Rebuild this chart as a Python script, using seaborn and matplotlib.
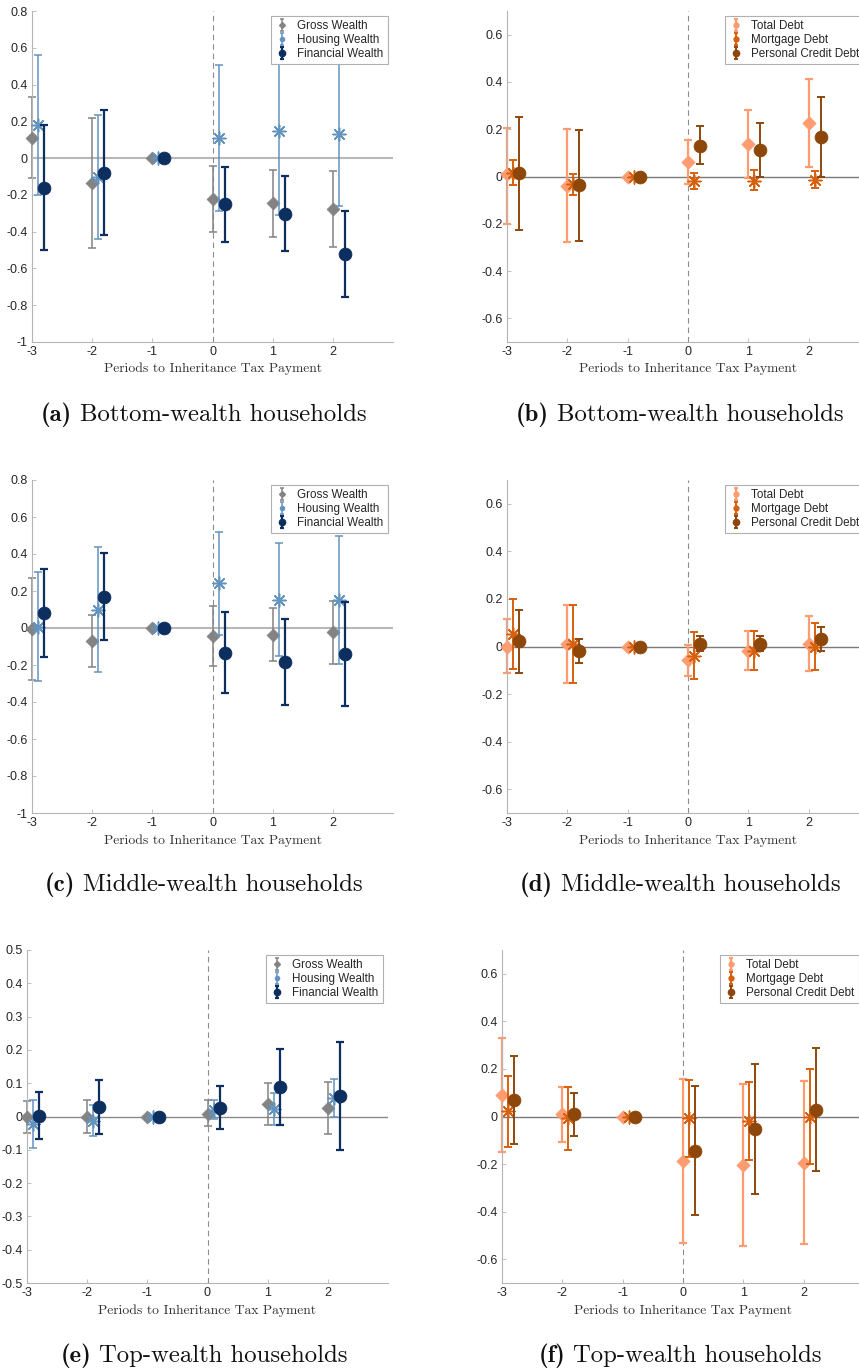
import numpy as np
import pandas as pd
import matplotlib
matplotlib.use("Agg")
import matplotlib.pyplot as plt
import seaborn as sns
from matplotlib.container import ErrorbarContainer
from matplotlib.lines import Line2D
from matplotlib.collections import LineCollection

# ---------------------------------------------------------------- data
periods = [-3, -2, -1, 0, 1, 2]

# (a) bottom-wealth households: assets
a_gross = [0.11, -0.135, 0.0, -0.225, -0.245, -0.275]
a_gross_lo = [-0.11, -0.49, 0.0, -0.40, -0.43, -0.485]
a_gross_hi = [0.33, 0.22, 0.0, -0.045, -0.065, -0.07]
a_housing = [0.18, -0.105, 0.0, 0.11, 0.148, 0.13]
a_housing_lo = [-0.20, -0.44, 0.0, -0.29, -0.31, -0.26]
a_housing_hi = [0.56, 0.235, 0.0, 0.505, 0.60, 0.525]
a_fin = [-0.16, -0.08, 0.0, -0.252, -0.305, -0.522]
a_fin_lo = [-0.50, -0.42, 0.0, -0.457, -0.506, -0.756]
a_fin_hi = [0.18, 0.26, 0.0, -0.049, -0.10, -0.287]

# (b) bottom-wealth households: debts
b_total = [0.01, -0.04, 0.0, 0.062, 0.138, 0.228]
b_total_lo = [-0.20, -0.277, 0.0, -0.03, -0.007, 0.042]
b_total_hi = [0.206, 0.203, 0.0, 0.155, 0.282, 0.414]
b_mort = [0.014, -0.032, 0.0, -0.021, -0.017, -0.013]
b_mort_lo = [-0.038, -0.077, 0.0, -0.052, -0.056, -0.049]
b_mort_hi = [0.069, 0.011, 0.0, 0.014, 0.027, 0.025]
b_pers = [0.013, -0.038, 0.0, 0.131, 0.111, 0.167]
b_pers_lo = [-0.226, -0.274, 0.0, 0.051, 0.0, 0.0]
b_pers_hi = [0.251, 0.198, 0.0, 0.212, 0.226, 0.337]

# (c) middle-wealth households: assets
c_gross = [-0.005, -0.072, 0.0, -0.043, -0.036, -0.023]
c_gross_lo = [-0.28, -0.213, 0.0, -0.204, -0.177, -0.195]
c_gross_hi = [0.27, 0.07, 0.0, 0.117, 0.108, 0.148]
c_housing = [0.004, 0.097, 0.0, 0.242, 0.153, 0.153]
c_housing_lo = [-0.287, -0.238, 0.0, -0.036, -0.153, -0.195]
c_housing_hi = [0.303, 0.436, 0.0, 0.52, 0.462, 0.50]
c_fin = [0.081, 0.17, 0.0, -0.133, -0.186, -0.141]
c_fin_lo = [-0.159, -0.067, 0.0, -0.35, -0.417, -0.422]
c_fin_hi = [0.32, 0.408, 0.0, 0.087, 0.047, 0.139]

# (d) middle-wealth households: debts
d_total = [0.0, 0.011, 0.0, -0.058, -0.02, 0.011]
d_total_lo = [-0.111, -0.152, 0.0, -0.123, -0.10, -0.103]
d_total_hi = [0.114, 0.176, 0.0, 0.007, 0.065, 0.127]
d_mort = [0.052, 0.01, 0.0, -0.038, -0.017, 0.0]
d_mort_lo = [-0.096, -0.152, 0.0, -0.135, -0.10, -0.097]
d_mort_hi = [0.20, 0.176, 0.0, 0.061, 0.065, 0.10]
d_pers = [0.023, -0.018, 0.0, 0.011, 0.011, 0.032]
d_pers_lo = [-0.11, -0.068, 0.0, -0.021, -0.021, -0.017]
d_pers_hi = [0.152, 0.031, 0.0, 0.044, 0.044, 0.08]

# (e) top-wealth households: assets
e_gross = [-0.003, -0.001, 0.0, 0.009, 0.038, 0.026]
e_gross_lo = [-0.05, -0.051, 0.0, -0.029, -0.025, -0.053]
e_gross_hi = [0.046, 0.05, 0.0, 0.051, 0.102, 0.104]
e_housing = [-0.023, -0.013, 0.0, 0.02, 0.023, 0.057]
e_housing_lo = [-0.095, -0.059, 0.0, -0.009, -0.027, -0.003]
e_housing_hi = [0.049, 0.035, 0.0, 0.05, 0.071, 0.114]
e_fin = [0.003, 0.029, 0.0, 0.027, 0.09, 0.063]
e_fin_lo = [-0.067, -0.053, 0.0, -0.038, -0.025, -0.10]
e_fin_hi = [0.074, 0.111, 0.0, 0.091, 0.203, 0.225]

# (f) top-wealth households: debts
f_total = [0.09, 0.011, 0.0, -0.187, -0.206, -0.196]
f_total_lo = [-0.149, -0.107, 0.0, -0.532, -0.545, -0.535]
f_total_hi = [0.331, 0.125, 0.0, 0.159, 0.135, 0.148]
f_mort = [0.023, -0.008, 0.0, -0.007, -0.018, 0.0]
f_mort_lo = [-0.127, -0.141, 0.0, -0.172, -0.183, -0.199]
f_mort_hi = [0.17, 0.125, 0.0, 0.155, 0.146, 0.20]
f_pers = [0.068, 0.01, 0.0, -0.145, -0.054, 0.028]
f_pers_lo = [-0.117, -0.082, 0.0, -0.414, -0.327, -0.231]
f_pers_hi = [0.254, 0.10, 0.0, 0.127, 0.222, 0.287]

asset_labels = ["Gross Wealth", "Housing Wealth", "Financial Wealth"]
debt_labels = ["Total Debt", "Mortgage Debt", "Personal Credit Debt"]
xlabel_text = "Periods to Inheritance Tax Payment"
captions = [
    ("(a)", "Bottom-wealth households"),
    ("(b)", "Bottom-wealth households"),
    ("(c)", "Middle-wealth households"),
    ("(d)", "Middle-wealth households"),
    ("(e)", "Top-wealth households"),
    ("(f)", "Top-wealth households"),
]

# ---------------------------------------------------------------- styles
sns.set_style("ticks")
plt.rcParams["font.family"] = ["Liberation Sans", "DejaVu Sans"]
plt.rcParams["axes.unicode_minus"] = False

ASTERISK = (8, 2, 0)
asset_styles = [
    dict(color="#838383", marker="D", s=42, lw=1.1, filled=True, leg_marker="D", leg_ms=3.0),
    dict(color="#6393bf", marker=ASTERISK, s=85, lw=1.1, filled=False, leg_marker="o", leg_ms=3.0),
    dict(color="#0d2f60", marker="o", s=85, lw=1.6, filled=True, leg_marker="o", leg_ms=4.5),
]
debt_styles = [
    dict(color="#fc9c70", marker="D", s=45, lw=1.6, filled=True, leg_marker="o", leg_ms=3.5),
    dict(color="#d7600e", marker=ASTERISK, s=85, lw=1.4, filled=False, leg_marker="o", leg_ms=3.5),
    dict(color="#8d470b", marker="o", s=85, lw=1.4, filled=True, leg_marker="o", leg_ms=4.5),
]

FIG_W, FIG_H = 859, 1371
fig = plt.figure(figsize=(FIG_W / 100, FIG_H / 100), dpi=100)


def axes_at(x0, x1, y0, y1):
    """Add axes given pixel edges (left, right, top, bottom)."""
    return fig.add_axes([x0 / FIG_W, 1 - y1 / FIG_H, (x1 - x0) / FIG_W, (y1 - y0) / FIG_H])


def legend_handle(style, label):
    c = style["color"]
    point = Line2D([], [], linestyle="none", marker=style["leg_marker"],
                   ms=style["leg_ms"], color=c, mec=c)
    cap = Line2D([], [], linestyle="none", marker="_", ms=3.5, mew=style["lw"], color=c)
    bars = LineCollection([], colors=[c], linewidths=style["lw"])
    return ErrorbarContainer((point, (cap, cap), (bars,)),
                             has_xerr=False, has_yerr=True, label=label)


def draw_panel(ax, series, labels, styles, ylim, yticks, zero_color, zero_lw):
    ax.set_xlim(-3, 3)
    ax.set_ylim(*ylim)
    ax.axhline(0, color=zero_color, lw=zero_lw, zorder=1)
    ax.axvline(0, color="#8c8c8c", lw=0.8, ls=(0, (5, 3.5)), zorder=1)

    handles = []
    for i, ((est, lo, hi), label, st) in enumerate(zip(series, labels, styles)):
        x = np.array(periods, dtype=float) + 0.1 * i
        y = np.array(est)
        err = [y - np.array(lo), np.array(hi) - y]
        eb = ax.errorbar(x, y, yerr=err, fmt="none", ecolor=st["color"],
                         elinewidth=st["lw"], capsize=2.6, capthick=st["lw"],
                         zorder=2 + 2 * i)
        for art in eb.get_children():
            art.set_clip_on(False)
        df = pd.DataFrame({"period": x, "estimate": y})
        kw = dict(marker=st["marker"], s=st["s"], color=st["color"],
                  zorder=3 + 2 * i, legend=False, ax=ax, clip_on=False)
        if st["filled"]:
            kw.update(edgecolor=st["color"], linewidth=0.6)
        else:
            kw.update(edgecolor=None, linewidth=1.1)
        sns.scatterplot(data=df, x="period", y="estimate", **kw)
        handles.append(legend_handle(st, label))

    ax.set_xticks(periods)
    ax.set_xticklabels([f"{p:d}" for p in periods])
    ax.set_yticks(yticks)
    ax.set_yticklabels([f"{round(v, 2):g}" for v in yticks])
    ax.set_ylabel("")
    ax.set_xlabel(xlabel_text, fontfamily="cmr10", fontsize=9.8, color="#333333")
    ax.xaxis.set_label_coords(0.5, -0.063)
    ax.xaxis.label.set_va("top")

    for side in ("top", "right"):
        ax.spines[side].set_visible(False)
    for side in ("left", "bottom"):
        ax.spines[side].set_color("#b5b5b5")
        ax.spines[side].set_linewidth(0.8)
    ax.tick_params(direction="in", length=3, width=0.6, color="#b5b5b5",
                   labelsize=9, labelcolor="#262626", pad=3)

    leg = ax.legend(handles=handles, loc="upper right", fontsize=8.4,
                    handlelength=1.2, handletextpad=0.7, labelspacing=0.16,
                    borderpad=0.35, borderaxespad=0.45, frameon=True,
                    fancybox=False, framealpha=1.0)
    leg.get_frame().set_edgecolor("#b0b0b0")
    leg.get_frame().set_linewidth(0.8)
    leg.set_zorder(20)


wealth_ticks = [0.8, 0.6, 0.4, 0.2, 0.0, -0.2, -0.4, -0.6, -0.8, -1.0]
debt_ticks = [0.6, 0.4, 0.2, 0.0, -0.2, -0.4, -0.6]
top_ticks = [0.5, 0.4, 0.3, 0.2, 0.1, 0.0, -0.1, -0.2, -0.3, -0.4, -0.5]

ax_a = axes_at(32, 393, 11, 342)
draw_panel(ax_a, [(a_gross, a_gross_lo, a_gross_hi),
                  (a_housing, a_housing_lo, a_housing_hi),
                  (a_fin, a_fin_lo, a_fin_hi)],
           asset_labels, asset_styles, (-1, 0.8), wealth_ticks, "#b8b8b8", 1.5)

ax_b = axes_at(507, 869, 11, 342)
draw_panel(ax_b, [(b_total, b_total_lo, b_total_hi),
                  (b_mort, b_mort_lo, b_mort_hi),
                  (b_pers, b_pers_lo, b_pers_hi)],
           debt_labels, debt_styles, (-0.7, 0.7), debt_ticks, "#7a7a7a", 1.0)

ax_c = axes_at(32, 393, 480, 813)
draw_panel(ax_c, [(c_gross, c_gross_lo, c_gross_hi),
                  (c_housing, c_housing_lo, c_housing_hi),
                  (c_fin, c_fin_lo, c_fin_hi)],
           asset_labels, asset_styles, (-1, 0.8), wealth_ticks, "#b8b8b8", 1.5)

ax_d = axes_at(507, 869, 480, 813)
draw_panel(ax_d, [(d_total, d_total_lo, d_total_hi),
                  (d_mort, d_mort_lo, d_mort_hi),
                  (d_pers, d_pers_lo, d_pers_hi)],
           debt_labels, debt_styles, (-0.7, 0.7), debt_ticks, "#7a7a7a", 1.0)

ax_e = axes_at(27, 388, 950, 1283)
draw_panel(ax_e, [(e_gross, e_gross_lo, e_gross_hi),
                  (e_housing, e_housing_lo, e_housing_hi),
                  (e_fin, e_fin_lo, e_fin_hi)],
           asset_labels, asset_styles, (-0.5, 0.5), top_ticks, "#8a8a8a", 1.0)

ax_f = axes_at(502, 864, 950, 1283)
draw_panel(ax_f, [(f_total, f_total_lo, f_total_hi),
                  (f_mort, f_mort_lo, f_mort_hi),
                  (f_pers, f_pers_lo, f_pers_hi)],
           debt_labels, debt_styles, (-0.7, 0.7), debt_ticks, "#7a7a7a", 1.0)

# Sub-captions under each panel: bold tag followed by the regular text
renderer = fig.canvas.get_renderer()
caption_pos = [(204, 415), (680, 415), (204, 885), (680, 885), (204, 1356), (680, 1356)]
CAP_SIZE = 17.8
for (tag, text), (cx, cy) in zip(captions, caption_pos):
    t_tag = fig.text(0, 0, tag, fontfamily="cmb10", fontsize=CAP_SIZE,
                     color="#111111", va="baseline", ha="left")
    t_txt = fig.text(0, 0, text, fontfamily="cmr10", fontsize=CAP_SIZE,
                     color="#111111", va="baseline", ha="left")
    w_tag = t_tag.get_window_extent(renderer).width
    w_txt = t_txt.get_window_extent(renderer).width
    gap = 0.45 * CAP_SIZE
    total = w_tag + gap + w_txt
    x0 = cx - total / 2
    base = cy + 6
    t_tag.set_position((x0 / FIG_W, 1 - base / FIG_H))
    t_txt.set_position(((x0 + w_tag + gap) / FIG_W, 1 - base / FIG_H))

fig.savefig("out.png", dpi=100)
